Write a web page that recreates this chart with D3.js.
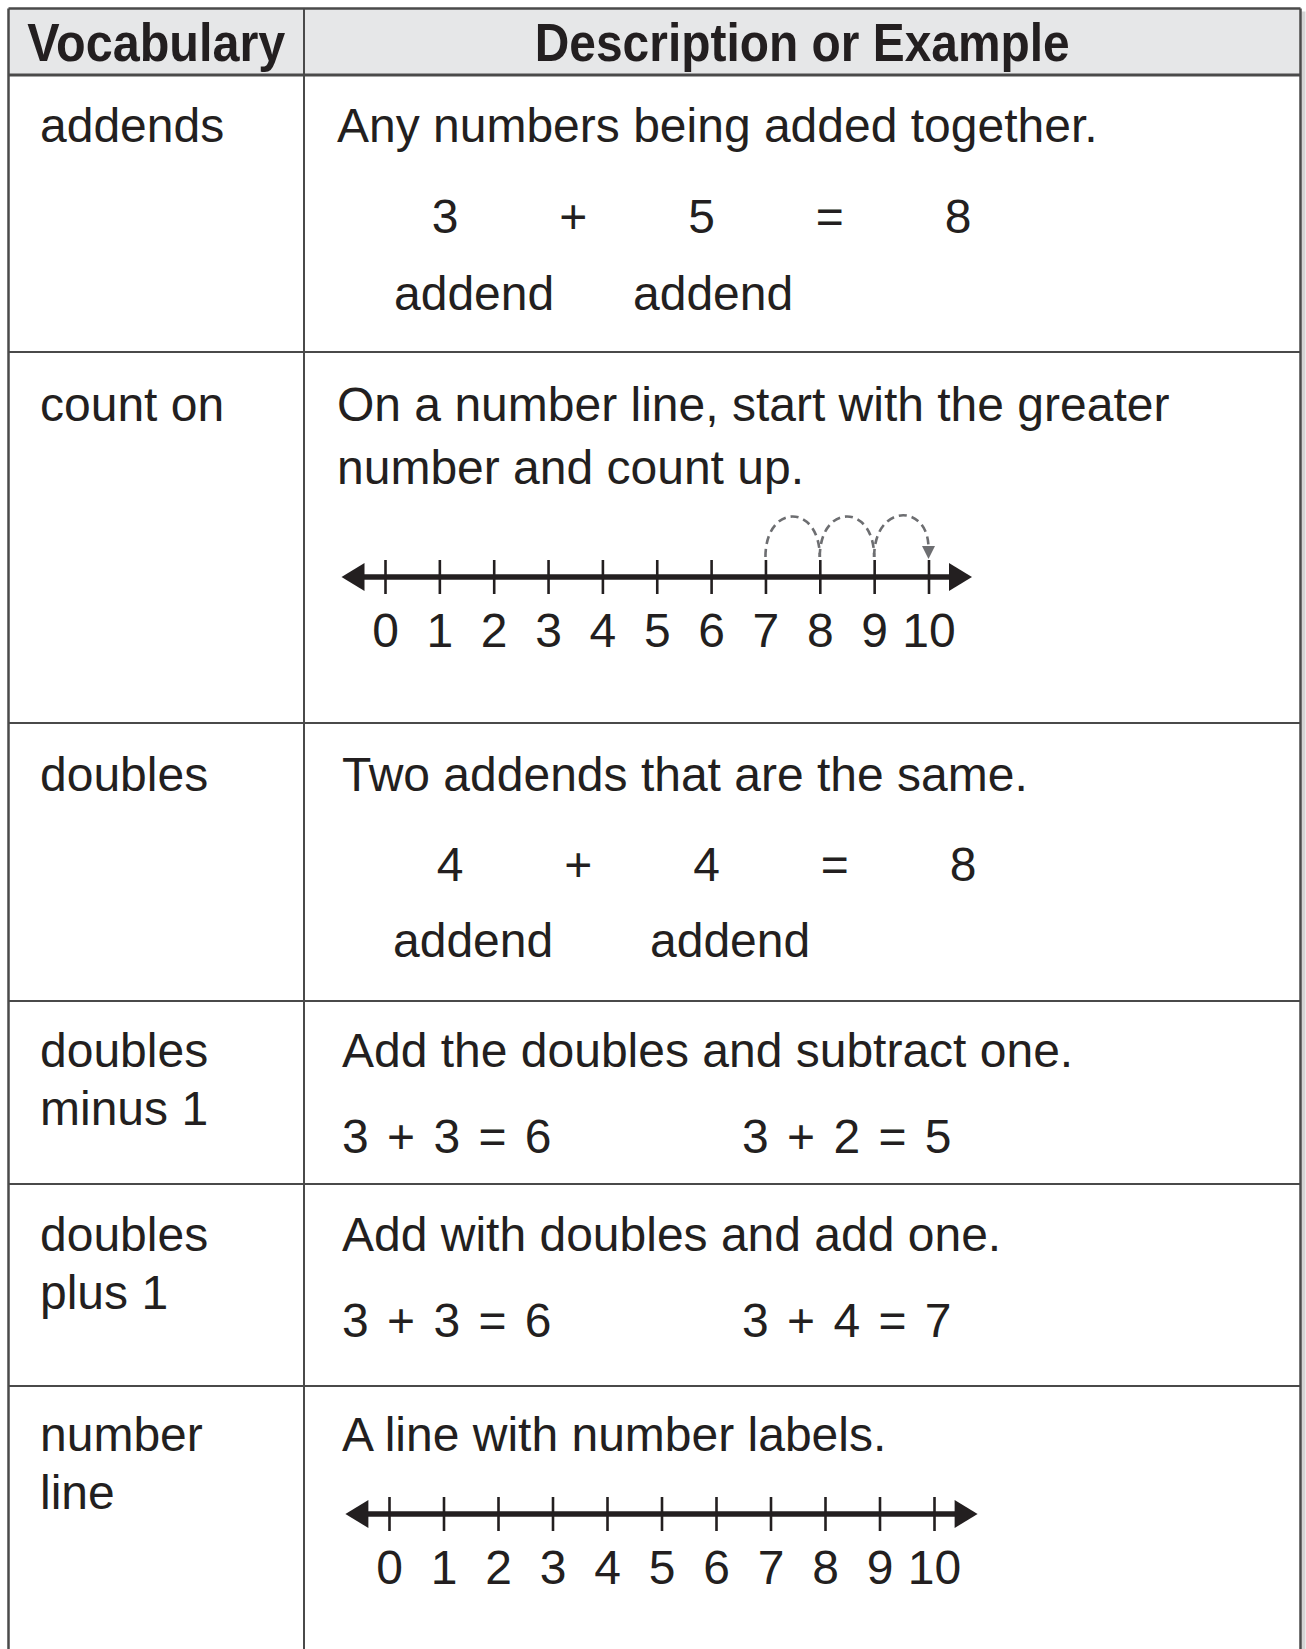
<!DOCTYPE html>
<html>
<head>
<meta charset="utf-8">
<script src="https://cdn.jsdelivr.net/npm/d3@7"></script>
<style>
  body { margin: 0; background: #fff; }
  svg { display: block; }
  text { font-family: "Liberation Sans", Arial, sans-serif; fill: #231f20; }
</style>
</head>
<body>
<svg id="mainSvg" width="1306" height="1649"></svg>
<script>
// table content
var headers = ["Vocabulary", "Description or Example"];
var terms = [["addends"], ["count on"], ["doubles"], ["doubles", "minus 1"], ["doubles", "plus 1"], ["number", "line"]];
var descriptions = [
  ["Any numbers being added together."],
  ["On a number line, start with the greater", "number and count up."],
  ["Two addends that are the same."],
  ["Add the doubles and subtract one."],
  ["Add with doubles and add one."],
  ["A line with number labels."]
];
var addendsExample = ["3", "+", "5", "=", "8"];
var doublesExample = ["4", "+", "4", "=", "8"];
var addendLabels = ["addend", "addend"];
var minusOneExamples = ["3 + 3 = 6", "3 + 2 = 5"];
var plusOneExamples = ["3 + 3 = 6", "3 + 4 = 7"];
var lineTicks = [0, 1, 2, 3, 4, 5, 6, 7, 8, 9, 10];
var countOnHops = [[7, 8], [8, 9], [9, 10]];

// layout
var W = 1306, H = 1649;
var tblLeft = 8.5, tblRight = 1300.5, tblTop = 8.5, colX = 304;
var rowLines = [75, 352, 723, 1001, 1184, 1386];
var lineColor = "#4a4a4a";
var fontSize = 48;

var svg = d3.select("#mainSvg");

// shadow on the right edge
svg.append("rect").attr("x", tblRight + 1).attr("y", tblTop + 3).attr("width", 4).attr("height", H)
  .attr("fill", "#d4d4d4");

svg.append("rect").attr("x", tblLeft).attr("y", tblTop).attr("width", tblRight - tblLeft).attr("height", rowLines[0] - tblTop)
  .attr("fill", "#e6e7e8");

// grid lines
svg.append("line").attr("x1", tblLeft).attr("x2", tblRight).attr("y1", tblTop).attr("y2", tblTop)
  .attr("stroke", lineColor).attr("stroke-width", 2.5);
rowLines.forEach(function(y, i) {
  svg.append("line").attr("x1", tblLeft).attr("x2", tblRight).attr("y1", y).attr("y2", y)
    .attr("stroke", lineColor).attr("stroke-width", i == 0 ? 3 : 2);
});
[tblLeft, colX, tblRight].forEach(function(x) {
  svg.append("line").attr("x1", x).attr("x2", x).attr("y1", tblTop).attr("y2", H)
    .attr("stroke", lineColor).attr("stroke-width", x == colX ? 2 : 2.5);
});

// header (condensed bold)
svg.append("text").attr("x", (tblLeft + colX) / 2).attr("y", 61).attr("text-anchor", "middle")
  .attr("textLength", 258).attr("lengthAdjust", "spacingAndGlyphs")
  .style("font-size", "53px").style("font-weight", "bold").text(headers[0]);
svg.append("text").attr("x", (colX + tblRight) / 2).attr("y", 61).attr("text-anchor", "middle")
  .attr("textLength", 535).attr("lengthAdjust", "spacingAndGlyphs")
  .style("font-size", "53px").style("font-weight", "bold").text(headers[1]);

// terms and descriptions
var termY = [142, 421, 791, 1067, 1251, 1451];
var descX = [337, 337, 342, 342, 342, 342];
terms.forEach(function(lines, i) {
  lines.forEach(function(s, j) {
    svg.append("text").attr("x", 40).attr("y", termY[i] + j * 58)
      .style("font-size", fontSize + "px").text(s);
  });
});
descriptions.forEach(function(lines, i) {
  lines.forEach(function(s, j) {
    svg.append("text").attr("x", descX[i]).attr("y", termY[i] + j * 63)
      .style("font-size", fontSize + "px").text(s);
  });
});

// addition examples with labels
function drawExample(tokens, x0, x1, y, labelX, labelY) {
  var x = d3.scalePoint().domain(d3.range(tokens.length)).range([x0, x1]);
  svg.selectAll(null).data(tokens).enter().append("text")
    .attr("x", function(d, i) { return x(i); }).attr("y", y)
    .attr("text-anchor", "middle").style("font-size", fontSize + "px")
    .text(function(d) { return d; });
  svg.selectAll(null).data(addendLabels).enter().append("text")
    .attr("x", function(d, i) { return labelX[i]; }).attr("y", labelY)
    .style("font-size", fontSize + "px").text(function(d) { return d; });
}
drawExample(addendsExample, 445, 958, 233, [394, 633], 310);
drawExample(doublesExample, 450, 963, 881, [393, 650], 957);

// doubles minus / plus examples
[[minusOneExamples, 1153], [plusOneExamples, 1337]].forEach(function(p) {
  svg.selectAll(null).data(p[0]).enter().append("text")
    .attr("x", function(d, i) { return i == 0 ? 342 : 742; }).attr("y", p[1])
    .style("font-size", fontSize + "px").attr("word-spacing", "5px")
    .text(function(d) { return d; });
});

// number lines
function drawNumberLine(x0, x1, axisY, hops) {
  var x = d3.scaleLinear().domain([lineTicks[0], lineTicks[lineTicks.length - 1]]).range([x0, x1]);
  var g = svg.append("g").attr("transform", "translate(0," + axisY + ")");
  var tipL = x(-0.8), tipR = x(10.8);
  g.append("line").attr("x1", tipL + 15).attr("x2", tipR - 15).attr("y1", 0).attr("y2", 0)
    .attr("stroke", "#231f20").attr("stroke-width", 5.5);
  g.append("path").attr("d", "M" + tipL + ",0L" + (tipL + 23) + ",-14L" + (tipL + 23) + ",14Z").attr("fill", "#231f20");
  g.append("path").attr("d", "M" + tipR + ",0L" + (tipR - 23) + ",-14L" + (tipR - 23) + ",14Z").attr("fill", "#231f20");

  var axis = d3.axisBottom(x).tickValues(lineTicks).tickSize(17).tickPadding(40)
    .tickFormat(d3.format("d"));
  var ag = g.append("g").call(axis);
  ag.select(".domain").remove();
  ag.selectAll(".tick line").attr("y1", -17).attr("stroke", "#231f20").attr("stroke-width", 2.6);
  ag.selectAll(".tick text").attr("dy", 0).attr("y", 70)
    .style("font-size", fontSize + "px").style("font-family", "'Liberation Sans', Arial, sans-serif")
    .attr("fill", "#231f20");

  if (hops) {
    var y0 = -20, rise = 54;
    hops.forEach(function(h, i) {
      var a = x(h[0]), b = x(h[1]);
      var last = i == hops.length - 1;
      g.append("path")
        .attr("d", "M" + a + "," + y0 + "C" + a + "," + (y0 - rise) + " " + b + "," + (y0 - rise) + " " + b + "," + (last ? y0 - 9 : y0))
        .attr("fill", "none").attr("stroke", "#6d6e71").attr("stroke-width", 2.6)
        .attr("stroke-dasharray", "8,5");
      if (last) {
        g.append("path").attr("d", "M" + (b - 6.5) + "," + (y0 - 11) + "L" + (b + 6.5) + "," + (y0 - 11) + "L" + b + "," + (y0 + 2) + "Z")
          .attr("fill", "#6d6e71");
      }
    });
  }
}
drawNumberLine(385, 928.5, 577, countOnHops);
drawNumberLine(389, 934, 1514, null);
</script>
</body>
</html>
